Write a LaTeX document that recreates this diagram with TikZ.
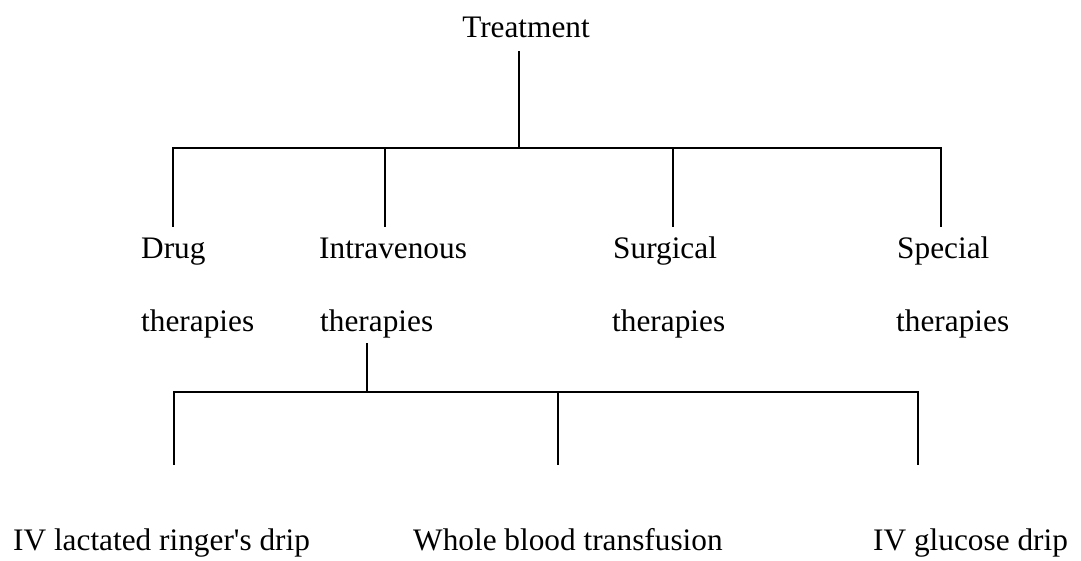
\documentclass[tikz,border=0pt]{standalone}
\usepackage{fontspec}
\setmainfont{Liberation Serif}
\begin{document}
\begin{tikzpicture}[x=1pt,y=-1pt,
  lbl/.style={inner sep=0pt, font=\fontsize{31.3}{38}\selectfont},
  branch/.style={line width=1.5pt, line cap=rect}]
\useasboundingbox (0,0) rectangle (1081,560);

% labels
\node[lbl, anchor=base] (treat) at (526,37) {Treatment};

\node[lbl, anchor=base west] (drug)  at (141,258) {Drug};
\node[lbl, anchor=base west] (drugT) at (141,331) {therapies};
\node[lbl, anchor=base west] (iv)    at (319,258) {Intravenous};
\node[lbl, anchor=base west] (ivT)   at (320,331) {therapies};
\node[lbl, anchor=base west] (surg)  at (613,258) {Surgical};
\node[lbl, anchor=base west] (surgT) at (612,331) {therapies};
\node[lbl, anchor=base west] (spec)  at (897,258) {Special};
\node[lbl, anchor=base west] (specT) at (896,331) {therapies};

\node[lbl, anchor=base west] (ringer)  at (13,550) {IV lactated ringer\textquotesingle s drip};
\node[lbl, anchor=base west] (blood)   at (413,550) {Whole blood transfusion};
\node[lbl, anchor=base west] (glucose) at (873,550) {IV glucose drip};

% first level bracket
\coordinate (rootTop) at (519,52);
\coordinate (rootBar) at (519,148);
\coordinate (drugTop) at (173,148);
\coordinate (drugEnd) at (173,226);
\coordinate (ivTop)   at (385,148);
\coordinate (ivEnd)   at (385,226);
\coordinate (surgTop) at (673,148);
\coordinate (surgEnd) at (673,226);
\coordinate (specTop) at (941,148);
\coordinate (specEnd) at (941,226);

\draw[branch] (rootTop) -- (rootBar);
\draw[branch] (drugEnd) -- (drugTop) -- (specTop) -- (specEnd);
\draw[branch] (ivTop) -- (ivEnd);
\draw[branch] (surgTop) -- (surgEnd);

% second level bracket
\coordinate (subTop)    at (367,344);
\coordinate (subBar)    at (367,392);
\coordinate (ringerTop) at (174,392);
\coordinate (ringerEnd) at (174,464);
\coordinate (bloodTop)  at (558,392);
\coordinate (bloodEnd)  at (558,464);
\coordinate (glucTop)   at (918,392);
\coordinate (glucEnd)   at (918,464);

\draw[branch] (subTop) -- (subBar);
\draw[branch] (ringerEnd) -- (ringerTop) -- (glucTop) -- (glucEnd);
\draw[branch] (bloodTop) -- (bloodEnd);
\end{tikzpicture}
\end{document}
